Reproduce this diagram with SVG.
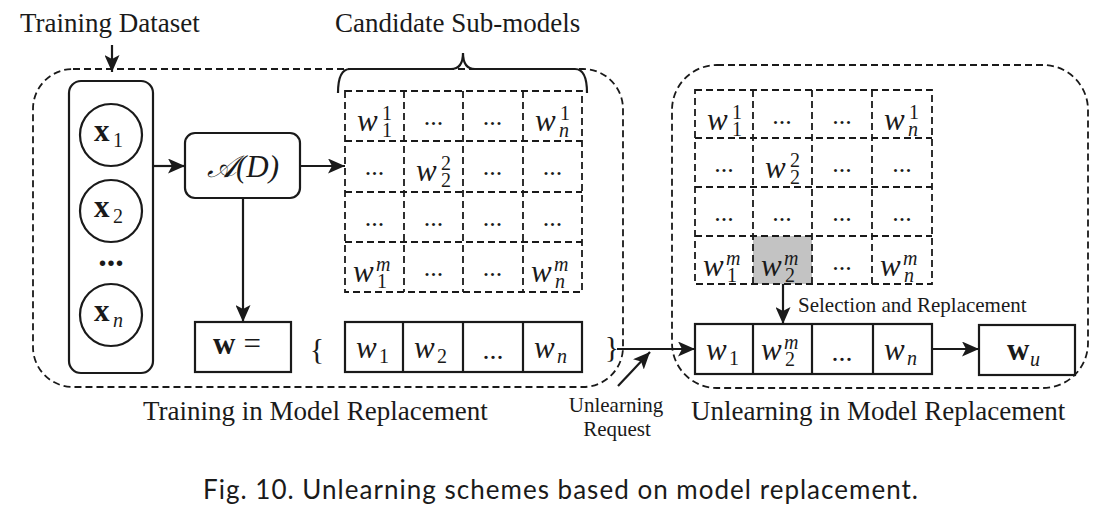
<svg xmlns="http://www.w3.org/2000/svg" width="1118" height="522" viewBox="0 0 1118 522">
<style>
.lbl{font-family:"Liberation Serif","Times New Roman",serif;fill:#1a1a1a}
.big{font-size:27px}
.small{font-size:21px}
.mi{font-family:"Liberation Serif","Times New Roman",serif;font-style:italic;font-size:31px;fill:#1a1a1a}
.sc{font-family:"Liberation Serif","Times New Roman",serif;font-size:20px;fill:#1a1a1a}
.sci{font-family:"Liberation Serif","Times New Roman",serif;font-style:italic;font-size:20px;fill:#1a1a1a}
.bf{font-family:"Liberation Serif","Times New Roman",serif;font-weight:bold;font-size:31px;fill:#1a1a1a}
.dots{font-family:"Liberation Serif","Times New Roman",serif;font-size:26px;fill:#1a1a1a;text-anchor:middle}
.bdots{font-family:"Liberation Serif","Times New Roman",serif;font-size:28px;fill:#1a1a1a;text-anchor:middle}
.box{fill:#fff;stroke:#1a1a1a;stroke-width:2.2}
.dash{fill:none;stroke:#1a1a1a;stroke-width:1.8;stroke-dasharray:7 4}
.edge{fill:none;stroke:#1a1a1a;stroke-width:2.2}
.cap{font-family:Lato,"Open Sans","Noto Sans",sans-serif;font-size:26px;fill:#1a1a1a}
</style>
<defs>
<marker id="ah" viewBox="0 0 17 15" refX="17" refY="7.5" markerWidth="17" markerHeight="15" markerUnits="userSpaceOnUse" orient="auto">
<path d="M0,0 L17,7.5 L0,15 L4,7.5 z" fill="#1a1a1a"/>
</marker>
</defs>

<!-- containers -->
<g id="training-container">
<rect class="dash" x="33" y="69" width="590" height="318" rx="40"/>
<text class="lbl big" x="143" y="420">Training in Model Replacement</text>
</g>
<g id="unlearning-container">
<rect class="dash" x="672" y="65" width="416" height="323" rx="45"/>
<text class="lbl big" x="691" y="420">Unlearning in Model Replacement</text>
</g>

<g id="training-dataset-label">
<text class="lbl big" x="20" y="32">Training Dataset</text>
</g>

<g id="data-column">
<rect class="box" x="69" y="81" width="84" height="292" rx="12"/>
<circle class="box" cx="111" cy="135" r="31"/>
<text x="94" y="141"><tspan class="bf" font-size="30">x</tspan></text>
<text class="sc" x="113" y="147">1</text>
<circle class="box" cx="111" cy="211" r="31"/>
<text x="94" y="217"><tspan class="bf" font-size="30">x</tspan></text>
<text class="sc" x="113" y="223">2</text>
<text class="lbl" x="111" y="266" font-size="34" font-weight="bold" text-anchor="middle">...</text>
<circle class="box" cx="111" cy="315" r="31"/>
<text x="94" y="321"><tspan class="bf" font-size="30">x</tspan></text>
<text class="sci" x="113" y="327">n</text>
</g>

<g id="algorithm">
<rect class="box" x="185" y="133" width="115" height="65" rx="10"/>
<text class="mi" x="243" y="177" font-size="30" text-anchor="middle"><tspan font-family="'Liberation Serif','DejaVu Serif','DejaVu Sans',serif">𝒜</tspan>(<tspan>D</tspan>)</text>
</g>

<g id="candidate-label">
<text class="lbl big" x="335" y="32">Candidate Sub-models</text>
<path class="edge" d="M338,93 Q338,69 350,69 L451,69 Q463,69 463,53 Q463,69 475,69 L575,69 Q587,69 587,93" stroke-width="2"/>
</g>

<g id="candidate-grid">
<rect class="dash" x="345" y="91" width="237" height="201"/>
<path class="dash" d="M345,141H582M345,192H582M345,242H582M404,91V292M463,91V292M523,91V292"/>
<text class="mi" x="357" y="131">w</text><text class="sc" x="382" y="120">1</text><text class="sc" x="382" y="137">1</text>
<text class="dots" x="433.5" y="125">...</text>
<text class="dots" x="492.5" y="125">...</text>
<text class="mi" x="535" y="131">w</text><text class="sc" x="560" y="120">1</text><text class="sci" x="559" y="137">n</text>
<text class="dots" x="374.5" y="175">...</text>
<text class="mi" x="416" y="181">w</text><text class="sc" x="441" y="170">2</text><text class="sc" x="441" y="187">2</text>
<text class="dots" x="492.5" y="175">...</text>
<text class="dots" x="552.5" y="175">...</text>
<text class="dots" x="374.5" y="226">...</text>
<text class="dots" x="433.5" y="226">...</text>
<text class="dots" x="492.5" y="226">...</text>
<text class="dots" x="552.5" y="226">...</text>
<text class="mi" x="353" y="282">w</text><text class="sci" x="376" y="271">m</text><text class="sc" x="377" y="288">1</text>
<text class="dots" x="433.5" y="276">...</text>
<text class="dots" x="492.5" y="276">...</text>
<text class="mi" x="531" y="282">w</text><text class="sci" x="554" y="271">m</text><text class="sci" x="555" y="288">n</text>
</g>

<g id="model-w">
<rect class="box" x="195" y="322" width="96" height="50"/>
<text x="213" y="354"><tspan class="bf">w</tspan><tspan class="lbl" font-size="31" dx="8">=</tspan></text>
<text class="lbl" x="317" y="359" font-size="30" text-anchor="middle">{</text>
<rect class="box" x="345" y="322" width="237" height="50"/>
<path class="edge" d="M403,322V372M463,322V372M523,322V372"/>
<text class="mi" x="356" y="358">w</text><text class="sc" x="379" y="363">1</text>
<text class="mi" x="414" y="358">w</text><text class="sc" x="437" y="363">2</text>
<text class="bdots" x="493" y="359">...</text>
<text class="mi" x="534" y="358">w</text><text class="sci" x="557" y="363">n</text>
<text class="lbl" x="612" y="357" font-size="30" text-anchor="middle">}</text>
</g>

<g id="selection-grid">
<rect x="753" y="236" width="59" height="48" fill="#c3c3c3"/>
<rect class="dash" x="695" y="90" width="237" height="194"/>
<path class="dash" d="M695,138H932M695,187H932M695,236H932M753,90V284M812,90V284M872,90V284"/>
<text class="mi" x="707" y="130">w</text><text class="sc" x="732" y="119">1</text><text class="sc" x="732" y="136">1</text>
<text class="dots" x="782" y="124">...</text>
<text class="dots" x="842" y="124">...</text>
<text class="mi" x="884" y="130">w</text><text class="sc" x="909" y="119">1</text><text class="sci" x="908" y="136">n</text>
<text class="dots" x="724" y="172">...</text>
<text class="mi" x="765" y="178">w</text><text class="sc" x="790" y="167">2</text><text class="sc" x="790" y="184">2</text>
<text class="dots" x="842" y="172">...</text>
<text class="dots" x="902" y="172">...</text>
<text class="dots" x="724" y="221">...</text>
<text class="dots" x="782" y="221">...</text>
<text class="dots" x="842" y="221">...</text>
<text class="dots" x="902" y="221">...</text>
<text class="mi" x="703" y="276">w</text><text class="sci" x="726" y="265">m</text><text class="sc" x="727" y="282">1</text>
<text class="mi" x="761" y="276">w</text><text class="sci" x="784" y="265">m</text><text class="sc" x="785" y="282">2</text>
<text class="dots" x="842" y="270">...</text>
<text class="mi" x="880" y="276">w</text><text class="sci" x="903" y="265">m</text><text class="sci" x="904" y="282">n</text>
</g>

<g id="updated-model">
<rect class="box" x="695" y="324" width="237" height="50"/>
<path class="edge" d="M753,324V374M812,324V374M873,324V374"/>
<text class="mi" x="706" y="360">w</text><text class="sc" x="729" y="365">1</text>
<text class="mi" x="761" y="360">w</text><text class="sci" x="784" y="349">m</text><text class="sc" x="785" y="366">2</text>
<text class="bdots" x="842" y="361">...</text>
<text class="mi" x="884" y="360">w</text><text class="sci" x="907" y="365">n</text>
</g>

<g id="model-wu">
<rect class="box" x="979" y="325" width="96" height="50"/>
<text class="bf" x="1007" y="360">w</text><text class="sci" x="1030" y="366">u</text>
</g>

<g id="unlearning-request">
<text class="lbl small" x="616" y="412" text-anchor="middle">Unlearning</text>
<text class="lbl small" x="617" y="436" text-anchor="middle">Request</text>
</g>

<g id="selection-label">
<text class="lbl small" x="798" y="312">Selection and Replacement</text>
</g>

<g id="connectors">
<line class="edge" x1="112" y1="45" x2="112" y2="72" marker-end="url(#ah)"/>
<line class="edge" x1="153" y1="166" x2="185" y2="166" marker-end="url(#ah)"/>
<line class="edge" x1="300" y1="166" x2="345" y2="166" marker-end="url(#ah)"/>
<line class="edge" x1="243" y1="198" x2="243" y2="322" marker-end="url(#ah)"/>
<line class="edge" x1="617" y1="349" x2="695" y2="349" marker-end="url(#ah)"/>
<line class="edge" x1="618" y1="386" x2="650" y2="352" marker-end="url(#ah)"/>
<line class="edge" x1="783" y1="284" x2="783" y2="324" marker-end="url(#ah)"/>
<line class="edge" x1="932" y1="349" x2="979" y2="349" marker-end="url(#ah)"/>
</g>

<g id="caption">
<text class="cap" x="203" y="499" textLength="715" lengthAdjust="spacing">Fig. 10.  Unlearning schemes based on model replacement.</text>
</g>
</svg>
